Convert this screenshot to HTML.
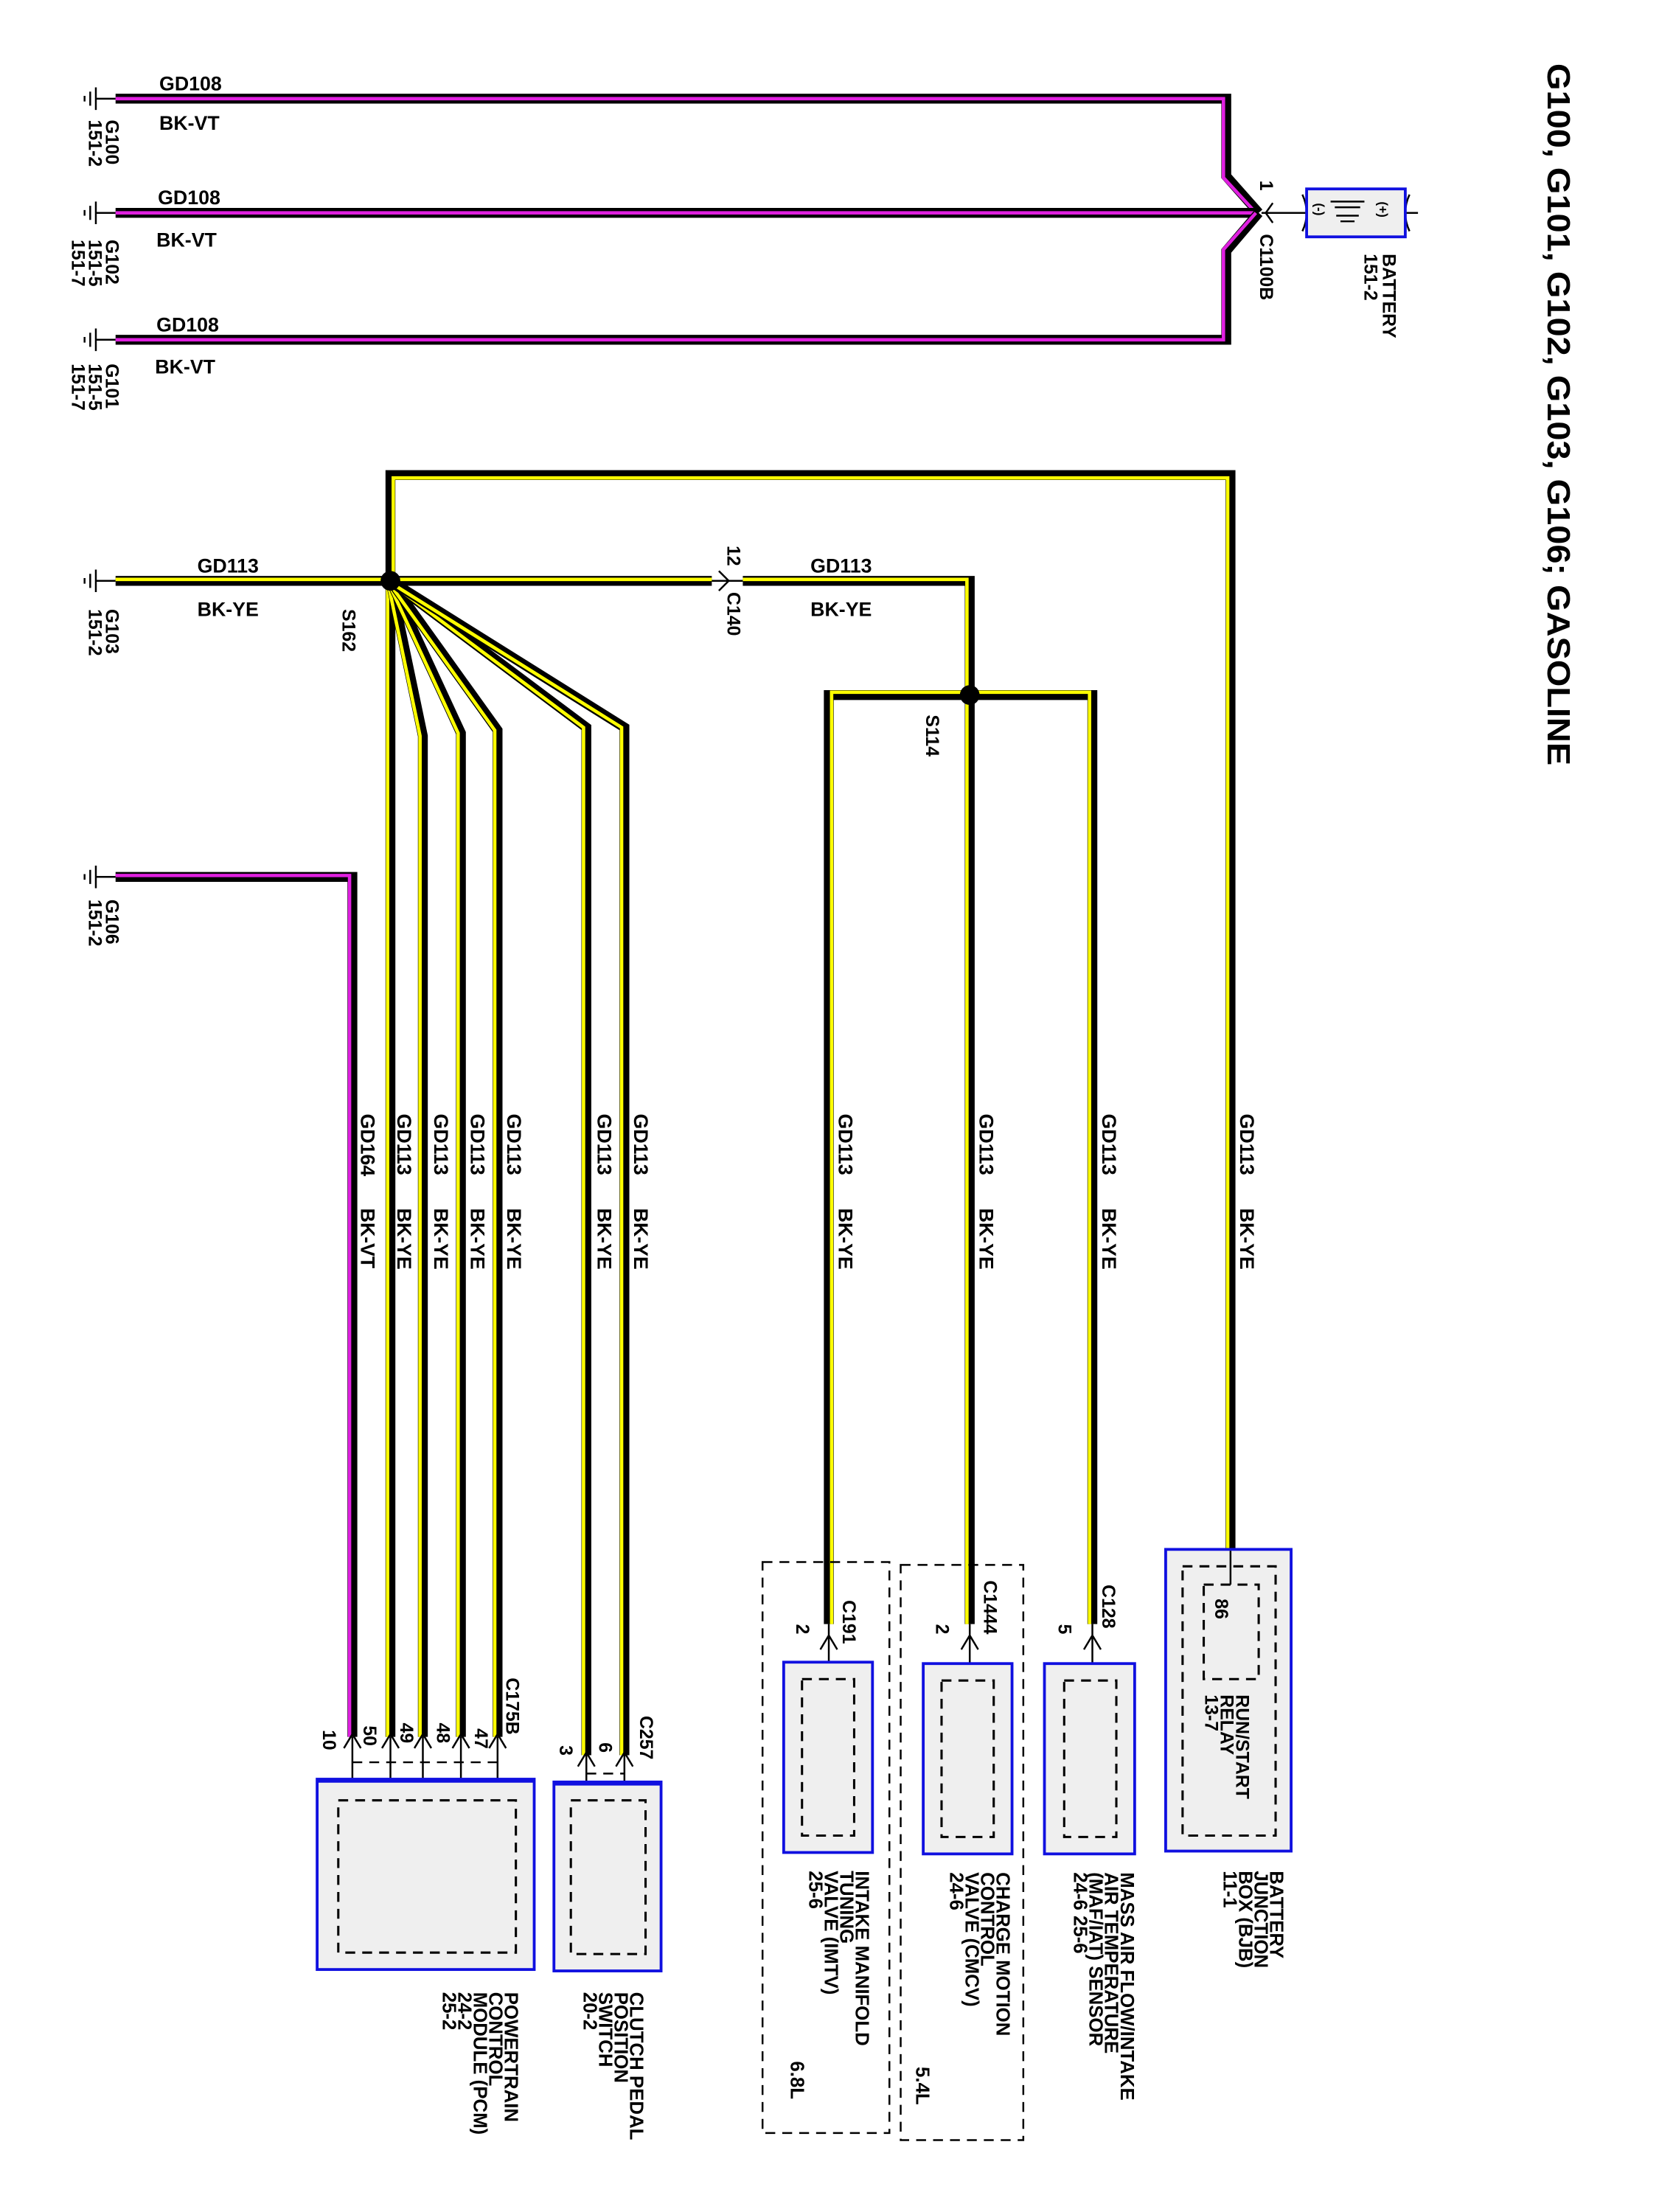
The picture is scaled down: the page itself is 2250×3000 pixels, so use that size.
<!DOCTYPE html>
<html><head><meta charset="utf-8"><style>
html,body{margin:0;padding:0;background:#fff}
svg{display:block}
text{font-family:"Liberation Sans",sans-serif;font-weight:bold;fill:#000}
.w{fill:none;stroke:#000;stroke-width:7;stroke-linejoin:miter}
.y{fill:none;stroke:#ffff00;stroke-width:2.4}
.p{fill:none;stroke:#e020e0;stroke-width:2.4}
.t{fill:none;stroke:#000;stroke-width:1.3}
.box{fill:#efefef;stroke:#1010e0;stroke-width:2}
.d{fill:none;stroke:#000;stroke-width:1.6;stroke-dasharray:7,5}
.dd{fill:none;stroke:#000;stroke-width:1.3;stroke-dasharray:7,5}
</style></head><body>
<svg width="2250" height="3000" viewBox="0 0 1177 1569" preserveAspectRatio="none" xmlns="http://www.w3.org/2000/svg">
<text transform="translate(1098,45) rotate(90)" font-size="23" textLength="498" lengthAdjust="spacingAndGlyphs" font-weight="normal">G100, G101, G102, G103, G106; GASOLINE</text>

<g class="t" stroke-width="1.5">
<path d="M68,70H82 M68,62V78 M64,65V75 M60,68V72"/>
<path d="M68,151H82 M68,143V159 M64,146V156 M60,149V153"/>
<path d="M68,241H82 M68,233V249 M64,236V246 M60,239V243"/>
<path d="M68,412H82 M68,404V420 M64,407V417 M60,410V414"/>
<path d="M68,622H82 M68,614V630 M64,617V627 M60,620V624"/>
</g>

<path class="w" d="M82,70H870V125L893,151"/><path class="p" d="M82,70H868V126L891,151"/>
<path class="w" d="M82,151H893"/><path class="p" d="M82,151H890"/>
<path class="w" d="M82,241H870V178L893,151"/><path class="p" d="M82,241H868V177L891,151"/>
<path class="t" stroke-width="2" d="M895,151H927 M903,144L898,151L903,158"/>
<path class="t" d="M924,138Q930,151 924,164 M1000,138Q994,151 1000,164 M997,151H1006"/>
<rect class="box" x="927" y="134" width="70" height="34" stroke-width="1.5"/>
<path class="t" stroke-width="1.5" d="M944,143H968 M947,147H965 M948,153H964 M951,157H961"/>
<text transform="translate(978,143) rotate(90)" font-size="9" font-weight="normal">(+)</text>
<text transform="translate(933,144) rotate(90)" font-size="9" font-weight="normal">(-)</text>
<text transform="translate(981,180) rotate(90)" font-size="13" font-weight="normal">BATTERY</text>
<text transform="translate(968,180) rotate(90)" font-size="13" font-weight="normal">151-2</text>
<text transform="translate(894,166) rotate(90)" font-size="13" font-weight="normal">C1100B</text>
<text transform="translate(894,128) rotate(90)" font-size="13" font-weight="normal">1</text>

<text x="113" y="64" font-size="14">GD108</text><text x="113" y="92" font-size="14">BK-VT</text>
<text x="112" y="145" font-size="14">GD108</text><text x="111" y="175" font-size="14">BK-VT</text>
<text x="111" y="235" font-size="14">GD108</text><text x="110" y="265" font-size="14">BK-VT</text>
<text transform="translate(75,85) rotate(90)" font-size="13">G100</text>
<text transform="translate(63,85) rotate(90)" font-size="13">151-2</text>
<text transform="translate(75,170) rotate(90)" font-size="13">G102</text>
<text transform="translate(63,170) rotate(90)" font-size="13">151-5</text>
<text transform="translate(51,170) rotate(90)" font-size="13">151-7</text>
<text transform="translate(75,258) rotate(90)" font-size="13">G101</text>
<text transform="translate(63,258) rotate(90)" font-size="13">151-5</text>
<text transform="translate(51,258) rotate(90)" font-size="13">151-7</text>
<text transform="translate(75,432) rotate(90)" font-size="13">G103</text>
<text transform="translate(63,432) rotate(90)" font-size="13">151-2</text>
<text transform="translate(75,638) rotate(90)" font-size="13">G106</text>
<text transform="translate(63,638) rotate(90)" font-size="13">151-2</text>

<g>
<path class="w" d="M82,412H505"/><path class="y" d="M82,411H505"/>
<path class="w" d="M277,412V337H873V1100"/><path class="y" d="M279,412V339H871V1100"/>
<path class="w" d="M527,412H688V1152"/><path class="y" d="M527,411H686V1152"/>
<path class="w" d="M688,493H588V1152"/><path class="y" d="M688,491H590V1152"/>
<path class="w" d="M688,493H775V1152"/><path class="y" d="M688,491H773V1152"/>
<path class="w" d="M277,412V1232"/><path class="y" d="M275,412V1232"/>
<path class="w" d="M277,412L300,522V1232"/><path class="y" d="M275,412L298,522V1232"/>
<path class="w" d="M277,412L327,520V1232"/><path class="y" d="M275,412L325,520V1232"/>
<path class="w" d="M277,412L353,518V1232"/><path class="y" d="M275,412L351,518V1232"/>
<path class="w" d="M277,412L416,516V1245"/><path class="y" d="M275,412L414,516V1245"/>
<path class="w" d="M277,412L443,516V1245"/><path class="y" d="M275,412L441,516V1245"/>
<path class="w" d="M82,622H250V1232"/><path class="p" d="M82,621H248V1232"/>
</g>
<circle cx="277" cy="412" r="7" fill="#000"/>
<circle cx="688" cy="493" r="7" fill="#000"/>
<path class="t" stroke-width="2" d="M505,412H527 M510,405L517,412L510,419"/>
<text transform="translate(516,387) rotate(90)" font-size="13" font-weight="normal">12</text>
<text transform="translate(516,420) rotate(90)" font-size="13" font-weight="normal">C140</text>
<text x="140" y="406" font-size="14">GD113</text><text x="140" y="437" font-size="14">BK-YE</text>
<text x="575" y="406" font-size="14">GD113</text><text x="575" y="437" font-size="14">BK-YE</text>
<text transform="translate(243,432) rotate(90)" font-size="13">S162</text>
<text transform="translate(657,507) rotate(90)" font-size="13">S114</text>

<g font-size="14">
<text transform="translate(256,790) rotate(90)">GD164</text><text transform="translate(256,857) rotate(90)">BK-VT</text>
<text transform="translate(282,790) rotate(90)">GD113</text><text transform="translate(282,857) rotate(90)">BK-YE</text>
<text transform="translate(308,790) rotate(90)">GD113</text><text transform="translate(308,857) rotate(90)">BK-YE</text>
<text transform="translate(334,790) rotate(90)">GD113</text><text transform="translate(334,857) rotate(90)">BK-YE</text>
<text transform="translate(360,790) rotate(90)">GD113</text><text transform="translate(360,857) rotate(90)">BK-YE</text>
<text transform="translate(424,790) rotate(90)">GD113</text><text transform="translate(424,857) rotate(90)">BK-YE</text>
<text transform="translate(450,790) rotate(90)">GD113</text><text transform="translate(450,857) rotate(90)">BK-YE</text>
<text transform="translate(595,790) rotate(90)">GD113</text><text transform="translate(595,857) rotate(90)">BK-YE</text>
<text transform="translate(695,790) rotate(90)">GD113</text><text transform="translate(695,857) rotate(90)">BK-YE</text>
<text transform="translate(782,790) rotate(90)">GD113</text><text transform="translate(782,857) rotate(90)">BK-YE</text>
<text transform="translate(880,790) rotate(90)">GD113</text><text transform="translate(880,857) rotate(90)">BK-YE</text>
</g>

<rect class="box" x="827" y="1099" width="89" height="214"/>
<rect class="d" x="839" y="1111" width="66" height="191"/>
<rect class="d" x="854" y="1124" width="39" height="67"/>
<path class="t" d="M873,1100V1124"/>
<text transform="translate(862,1134) rotate(90)" font-size="13" font-weight="normal">86</text>
<text transform="translate(877,1202) rotate(90)" font-size="13" font-weight="normal">RUN/START</text>
<text transform="translate(866,1202) rotate(90)" font-size="13" font-weight="normal">RELAY</text>
<text transform="translate(855,1202) rotate(90)" font-size="13" font-weight="normal">13-7</text>
<g font-size="13.5">
<text transform="translate(901,1327) rotate(90)">BATTERY</text>
<text transform="translate(890,1327) rotate(90)">JUNCTION</text>
<text transform="translate(879,1327) rotate(90)">BOX (BJB)</text>
<text transform="translate(868,1327) rotate(90)">11-1</text>
</g>

<g class="t" stroke-width="1.8">
<path d="M769,1170L775,1160L781,1170 M775,1152V1193"/>
<path d="M682,1170L688,1160L694,1170 M688,1152V1193"/>
<path d="M582,1170L588,1160L594,1170 M588,1152V1193"/>
<path d="M437,1253L443,1243L449,1253 M443,1245V1277"/>
<path d="M410,1253L416,1243L422,1253 M416,1245V1277"/>
<path d="M347,1240L353,1230L359,1240 M353,1232V1277"/>
<path d="M321,1240L327,1230L333,1240 M327,1232V1277"/>
<path d="M294,1240L300,1230L306,1240 M300,1232V1277"/>
<path d="M271,1240L277,1230L283,1240 M277,1232V1277"/>
<path d="M244,1240L250,1230L256,1240 M250,1232V1277"/>
</g>
<path class="dd" d="M250,1250H353 M416,1258H443"/>

<rect class="box" x="741" y="1180" width="64" height="135"/>
<rect class="d" x="755" y="1192" width="37" height="111"/>
<text transform="translate(782,1124) rotate(90)" font-size="13" font-weight="normal">C128</text>
<text transform="translate(751,1152) rotate(90)" font-size="13" font-weight="normal">5</text>
<g font-size="13.5">
<text transform="translate(795,1328) rotate(90)">MASS AIR FLOW/INTAKE</text>
<text transform="translate(784,1328) rotate(90)">AIR TEMPERATURE</text>
<text transform="translate(773,1328) rotate(90)">(MAF/IAT) SENSOR</text>
<text transform="translate(762,1328) rotate(90)">24-6     25-6</text>
</g>

<rect class="dd" x="639" y="1110" width="87" height="408"/>
<rect class="box" x="655" y="1180" width="63" height="135"/>
<rect class="d" x="668" y="1192" width="37" height="111"/>
<text transform="translate(698,1121) rotate(90)" font-size="13">C1444</text>
<text transform="translate(664,1152) rotate(90)" font-size="13" font-weight="normal">2</text>
<g font-size="13.5">
<text transform="translate(707,1328) rotate(90)">CHARGE MOTION</text>
<text transform="translate(696,1328) rotate(90)">CONTROL</text>
<text transform="translate(685,1328) rotate(90)">VALVE (CMCV)</text>
<text transform="translate(674,1328) rotate(90)">24-6</text>
<text transform="translate(650,1466) rotate(90)">5.4L</text>
</g>

<rect class="dd" x="541" y="1108" width="90" height="405"/>
<rect class="box" x="556" y="1179" width="63" height="135"/>
<rect class="d" x="569" y="1191" width="37" height="111"/>
<text transform="translate(598,1135) rotate(90)" font-size="13">C191</text>
<text transform="translate(565,1152) rotate(90)" font-size="13" font-weight="normal">2</text>
<g font-size="13.5">
<text transform="translate(607,1327) rotate(90)">INTAKE MANIFOLD</text>
<text transform="translate(596,1327) rotate(90)">TUNING</text>
<text transform="translate(585,1327) rotate(90)">VALVE (IMTV)</text>
<text transform="translate(574,1327) rotate(90)">25-6</text>
<text transform="translate(561,1462) rotate(90)">6.8L</text>
</g>

<rect class="box" x="393" y="1264" width="76" height="134"/>
<rect class="d" x="405" y="1277" width="53" height="109"/>
<text transform="translate(454,1217) rotate(90)" font-size="13">C257</text>
<text transform="translate(425,1236) rotate(90)" font-size="13">6</text>
<text transform="translate(397,1238) rotate(90)" font-size="13">3</text>
<g font-size="13.5">
<text transform="translate(447,1413) rotate(90)">CLUTCH PEDAL</text>
<text transform="translate(436,1413) rotate(90)">POSITION</text>
<text transform="translate(425,1413) rotate(90)">SWITCH</text>
<text transform="translate(414,1413) rotate(90)">20-2</text>
</g>

<rect class="box" x="225" y="1262" width="154" height="135"/>
<path d="M225,1263H379" stroke="#1010e0" stroke-width="3"/>
<path d="M393,1265H469" stroke="#1010e0" stroke-width="3"/>
<rect class="d" x="240" y="1277" width="126" height="108"/>
<text transform="translate(359,1190) rotate(90)" font-size="13">C175B</text>
<text transform="translate(337,1226) rotate(90)" font-size="13">47</text>
<text transform="translate(310,1222) rotate(90)" font-size="13">48</text>
<text transform="translate(284,1222) rotate(90)" font-size="13">49</text>
<text transform="translate(258,1224) rotate(90)" font-size="13">50</text>
<text transform="translate(229,1227) rotate(90)" font-size="13">10</text>
<g font-size="13.5">
<text transform="translate(358,1413) rotate(90)">POWERTRAIN</text>
<text transform="translate(347,1413) rotate(90)">CONTROL</text>
<text transform="translate(336,1413) rotate(90)">MODULE (PCM)</text>
<text transform="translate(325,1413) rotate(90)">24-2</text>
<text transform="translate(314,1413) rotate(90)">25-2</text>
</g>
</svg>
</body></html>
